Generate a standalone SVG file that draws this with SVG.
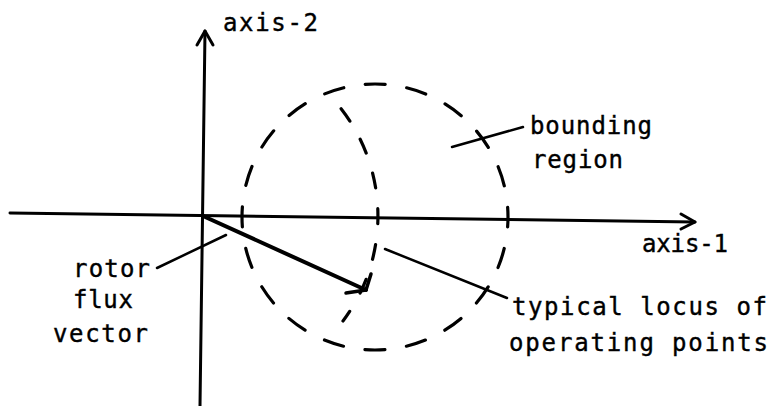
<svg xmlns="http://www.w3.org/2000/svg" width="775" height="406" viewBox="0 0 775 406">
<style>
.ln{stroke:#000;fill:none;stroke-linecap:round;stroke-linejoin:round}
.ax{stroke-width:3}
.ld{stroke-width:2.5}
.dash{stroke-width:3.2}
text{font-family:"DejaVu Sans Mono","Liberation Mono",monospace;font-size:24px;fill:#000;stroke:#000;stroke-width:0.4}
</style>
<rect width="775" height="406" fill="#fff"/>
<g id="connectors">
<path class="ln ax" d="M10 213 L695 222"/>
<path class="ln ax" d="M681 214 L695 222 L681 229"/>
<path class="ln ax" d="M200 406 L205 31"/>
<path class="ln ax" d="M197 45 L205 31 L213 45"/>
<path class="ln" stroke-width="4" d="M203 216 L366 290"/>
<path class="ln" stroke-width="3.5" d="M371 274 L366 290 L346 293"/>
<path class="ln ld" d="M157 268 L226 235"/>
<path class="ln ld" d="M452 147 L523 127"/>
<path class="ln ld" d="M385 249 L507 298"/>
</g>
<g id="bounding-region">
<circle class="ln dash" cx="375" cy="217" r="133" stroke-dasharray="20 21.78" stroke-dashoffset="10"/>
</g>
<g id="locus">
<path class="ln dash" d="M333 99 A175 175 0 0 1 343 321" stroke-dasharray="15 21" stroke-dashoffset="-12.8"/>
</g>
<g id="labels">
<text x="223" y="31" textLength="95" lengthAdjust="spacing">axis-2</text>
<text x="642" y="252" textLength="86" lengthAdjust="spacing">axis-1</text>
<text x="530" y="134" textLength="122" lengthAdjust="spacing">bounding</text>
<text x="532" y="168" textLength="91" lengthAdjust="spacing">region</text>
<text x="512" y="315" textLength="255" lengthAdjust="spacing">typical locus of</text>
<text x="509" y="351" textLength="259" lengthAdjust="spacing">operating points</text>
<text x="73" y="277" textLength="77" lengthAdjust="spacing">rotor</text>
<text x="73" y="308" textLength="60" lengthAdjust="spacing">flux</text>
<text x="53" y="342" textLength="95" lengthAdjust="spacing">vector</text>
</g>
</svg>
